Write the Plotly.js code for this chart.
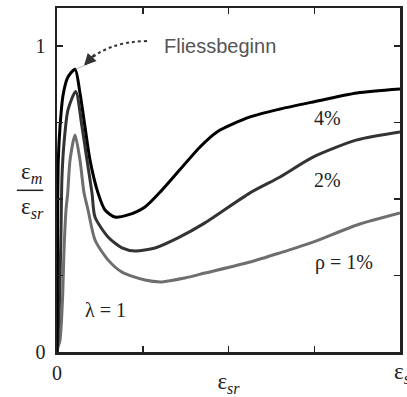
<!DOCTYPE html>
<html><head><meta charset="utf-8">
<script src="https://cdn.plot.ly/plotly-3.0.1.min.js"></script>
<style>html,body{margin:0;padding:0;background:#fff;}#chart{width:407px;height:397px;}</style>
</head><body><div id="chart"></div>
<script>
// ρ = 4 %
const x4 = [0, 0.004, 0.008, 0.015, 0.035, 0.070, 0.125, 0.210, 0.268, 0.327, 0.385, 0.478, 0.560, 0.676, 0.828, 1.026, 1.224, 1.668, 1.866, 2.251, 2.601, 2.985, 3.499, 4.0];
const y4 = [0, 0.20, 0.474, 0.627, 0.735, 0.838, 0.897, 0.924, 0.846, 0.735, 0.627, 0.520, 0.464, 0.441, 0.448, 0.474, 0.529, 0.670, 0.719, 0.768, 0.794, 0.817, 0.846, 0.859];
// ρ = 2 %
const x2 = [0, 0.010, 0.029, 0.047, 0.058, 0.082, 0.128, 0.218, 0.292, 0.350, 0.408, 0.443, 0.595, 0.758, 0.910, 1.143, 1.411, 1.726, 2.251, 2.601, 2.985, 3.499, 4.0];
const y2 = [0, 0.04, 0.170, 0.399, 0.572, 0.683, 0.791, 0.851, 0.735, 0.627, 0.520, 0.441, 0.376, 0.340, 0.330, 0.340, 0.373, 0.422, 0.520, 0.572, 0.637, 0.693, 0.719];
// ρ = 1 %
const x1 = [0, 0.008, 0.035, 0.064, 0.082, 0.105, 0.125, 0.152, 0.210, 0.268, 0.315, 0.362, 0.443, 0.595, 0.758, 1.026, 1.224, 1.493, 1.726, 2.251, 2.601, 2.985, 3.499, 4.0];
const y1 = [0, 0.013, 0.039, 0.170, 0.333, 0.464, 0.520, 0.627, 0.709, 0.627, 0.520, 0.464, 0.366, 0.301, 0.261, 0.235, 0.229, 0.242, 0.258, 0.294, 0.324, 0.359, 0.415, 0.454];

const xTickVals = [0, 1, 2, 3, 4];
const xTickText = ['0', ' ', ' ', ' ', ' '];
const yTickVals = [0, 0.25, 0.5, 0.75, 1];
const yTickText = ['0', ' ', ' ', ' ', '1'];

const serif = '"Liberation Serif", "DejaVu Serif", "Times New Roman", serif';
const sans = '"Liberation Sans", Arial, sans-serif';
const ink = '#222';
const traces = [
  {x: x1, y: y1, mode: 'lines', line: {color: '#6e6e6e', width: 3, shape: 'spline', smoothing: 0.7}, hoverinfo: 'skip'},
  {x: x2, y: y2, mode: 'lines', line: {color: '#333333', width: 3, shape: 'spline', smoothing: 0.7}, hoverinfo: 'skip'},
  {x: x4, y: y4, mode: 'lines', line: {color: '#000000', width: 3, shape: 'spline', smoothing: 0.7}, hoverinfo: 'skip'}
];

const layout = {
  width: 407, height: 397,
  margin: {l: 57, r: 7, t: 8, b: 45},
  showlegend: false,
  paper_bgcolor: '#fff', plot_bgcolor: '#fff',
  font: {family: serif, size: 19, color: ink},
  xaxis: {
    range: [0, 4], tickvals: xTickVals, ticktext: xTickText,
    ticks: 'inside', ticklen: 6, tickwidth: 1.5, tickcolor: ink,
    showline: true, linewidth: 2.5, linecolor: ink, mirror: 'ticks',
    showgrid: false, zeroline: false, ticklabelstandoff: 1,
    tickfont: {family: serif, size: 20, color: ink},
    title: {text: 'ε<sub><i>sr</i></sub>', font: {family: serif, size: 23, color: ink}, standoff: 6}
  },
  yaxis: {
    range: [0, 1.124], tickvals: yTickVals, ticktext: yTickText,
    ticks: 'inside', ticklen: 6, tickwidth: 1.5, tickcolor: ink,
    showline: true, linewidth: 2.5, linecolor: ink, mirror: 'ticks',
    showgrid: false, zeroline: false, ticklabelstandoff: 5,
    tickfont: {family: serif, size: 20, color: ink}
  },
  shapes: [
    {type: 'line', xref: 'paper', yref: 'paper', x0: -0.117, x1: -0.04, y0: 0.47, y1: 0.47, line: {color: ink, width: 1.5}},
    {type: 'path', xref: 'x', yref: 'y', path: 'M 1.05,1.016 Q 0.56,1.013 0.33,0.94', line: {color: '#333', width: 2, dash: 'dot'}},
    {type: 'line', xref: 'x', yref: 'y', x0: 0.315, y0: 0.935, x1: 0.22, y1: 0.925, line: {color: '#bbb', width: 1}}
  ],
  annotations: [
    {xref: 'paper', yref: 'paper', x: -0.112, y: 0.475, yanchor: 'bottom', text: 'ε<sub><i>m</i></sub>', showarrow: false, font: {family: serif, size: 23, color: ink}},
    {xref: 'paper', yref: 'paper', x: -0.112, y: 0.465, yanchor: 'top', text: 'ε<sub><i>sr</i></sub>', showarrow: false, font: {family: serif, size: 23, color: ink}},
    {xref: 'paper', yref: 'paper', x: 0.977, y: -0.062, xanchor: 'left', yanchor: 'middle', text: 'ε<sub><i>sm</i></sub>', showarrow: false, font: {family: serif, size: 23, color: ink}},
    {xref: 'x', yref: 'y', x: 1.9, y: 1.0, text: 'Fliessbeginn', showarrow: false, font: {family: sans, size: 20, color: '#555'}},
    {xref: 'x', yref: 'y', x: 0.315, y: 0.935, text: '', showarrow: true, arrowhead: 2, arrowsize: 1.2, arrowwidth: 2, arrowcolor: '#333', ax: 12, ay: -13},
    {xref: 'x', yref: 'y', x: 3.15, y: 0.765, text: '4%', showarrow: false, font: {size: 20}},
    {xref: 'x', yref: 'y', x: 3.16, y: 0.562, text: '2%', showarrow: false, font: {size: 20}},
    {xref: 'x', yref: 'y', x: 3.35, y: 0.294, text: 'ρ = 1%', showarrow: false, font: {size: 20}},
    {xref: 'x', yref: 'y', x: 0.56, y: 0.137, text: 'λ = 1', showarrow: false, font: {size: 20}}
  ]
};
Plotly.newPlot('chart', traces, layout, {staticPlot: true, displayModeBar: false});
</script></body></html>
